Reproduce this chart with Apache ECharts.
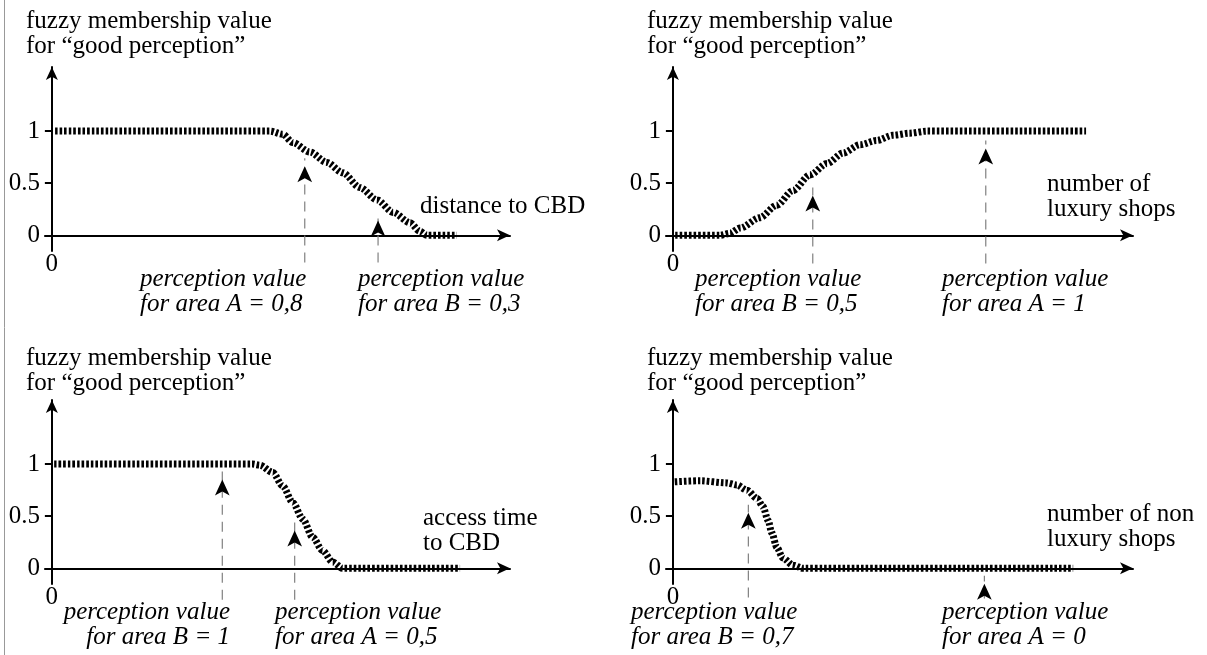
<!DOCTYPE html>
<html>
<head>
<meta charset="utf-8">
<script src="https://cdn.jsdelivr.net/npm/echarts@6/dist/echarts.min.js"></script>
<style>
  html, body { margin: 0; padding: 0; background: #fff; }
  #chart { width: 1207px; height: 655px; }
</style>
</head>
<body>
<div id="chart"></div>
<script>
// membership curves, x in axis units (0..100), y membership value
var distanceX = [0.7, 47.6, 50.4, 52.6, 56.3, 60.0, 63.5, 67.2, 71.0, 74.5, 78.2, 80.3, 81.9, 88.4];
var distanceY = [1, 1, 0.97, 0.89, 0.80, 0.70, 0.60, 0.46, 0.34, 0.22, 0.12, 0.04, 0, 0];

var luxuryX = [0.5, 10.2, 12.4, 14.6, 18.9, 22.6, 26.1, 29.8, 33.5, 37.0, 40.7, 44.3, 47.8, 51.5, 55.2, 89.8];
var luxuryY = [0, 0, 0.02, 0.07, 0.17, 0.29, 0.43, 0.58, 0.69, 0.79, 0.87, 0.91, 0.96, 0.98, 1, 1];

var accessX = [0.5, 43.8, 45.4, 48.2, 50.4, 52.6, 54.8, 56.9, 59.1, 61.3, 63.5, 89.1];
var accessY = [1, 1, 0.99, 0.92, 0.79, 0.63, 0.47, 0.30, 0.17, 0.06, 0, 0];

var nonLuxuryX = [0.4, 5.9, 11.7, 13.9, 16.1, 18.3, 19.6, 20.7, 21.5, 22.6, 23.9, 26.1, 28.3, 87.0];
var nonLuxuryY = [0.83, 0.84, 0.82, 0.80, 0.75, 0.67, 0.59, 0.46, 0.34, 0.20, 0.10, 0.03, 0, 0];

// perception arrows: x position, arrow tip value, dashed line start value
var distanceArrowX = [55.2, 71.2];
var distanceArrowTip = [0.74, 0.22];
var distanceArrowBase = [-0.26, -0.26];

var luxuryArrowX = [30.4, 68.0];
var luxuryArrowTip = [0.46, 0.91];
var luxuryArrowBase = [-0.27, -0.27];

var accessArrowX = [37.2, 53.0];
var accessArrowTip = [0.93, 0.44];
var accessArrowBase = [-0.30, -0.30];

var nonLuxuryArrowX = [16.4, 67.7];
var nonLuxuryArrowTip = [0.61, -0.07];
var nonLuxuryArrowBase = [-0.28, -0.29];

var yTicks = [0, 0.5, 1];
var xTicks = [0];

var yTitle = 'fuzzy membership value\nfor “good perception”';
var xNames = ['distance to CBD', 'number of\nluxury shops', 'access time\nto CBD', 'number of non\nluxury shops'];
var arrowLabels = [
    ['perception value\nfor area A = 0,8', 'perception value\nfor area B = 0,3'],
    ['perception value\nfor area B = 0,5', 'perception value\nfor area A = 1'],
    ['perception value\nfor area B = 1', 'perception value\nfor area A = 0,5'],
    ['perception value\nfor area B = 0,7', 'perception value\nfor area A = 0']
];

var FONT = '"Liberation Serif", "Times New Roman", serif';
var FS = 25;

var panels = [
    { xs: distanceX, ys: distanceY, ax: distanceArrowX, at: distanceArrowTip, ab: distanceArrowBase },
    { xs: luxuryX, ys: luxuryY, ax: luxuryArrowX, at: luxuryArrowTip, ab: luxuryArrowBase },
    { xs: accessX, ys: accessY, ax: accessArrowX, at: accessArrowTip, ab: accessArrowBase },
    { xs: nonLuxuryX, ys: nonLuxuryY, ax: nonLuxuryArrowX, at: nonLuxuryArrowTip, ab: nonLuxuryArrowBase }
];

// layout of each panel
var grids = [
    { left: 45, top: 67, width: 465, height: 184 },
    { left: 666, top: 67, width: 467, height: 184 },
    { left: 45, top: 400, width: 465, height: 184 },
    { left: 666, top: 400, width: 467, height: 184 }
];

var axisLineStyle = { color: '#000', width: 2 };

var xAxes = [], yAxes = [], series = [];
for (var p = 0; p < panels.length; p++) {
    var pn = panels[p];
    xAxes.push({
        gridIndex: p, type: 'value', min: -1.5, max: 100,
        axisLine: { onZero: true, lineStyle: axisLineStyle, symbol: ['none', 'arrow'], symbolSize: [9, 13] },
        axisTick: { show: false },
        splitLine: { show: false },
        axisLabel: { customValues: xTicks, margin: 1, color: '#000', fontFamily: FONT, fontSize: FS }
    });
    yAxes.push({
        gridIndex: p, type: 'value', min: -0.15, max: 1.615,
        axisLine: { onZero: true, lineStyle: axisLineStyle, symbol: ['none', 'arrow'], symbolSize: [9, 13] },
        axisTick: { customValues: yTicks, length: 7, lineStyle: { color: '#000', width: 2 } },
        splitLine: { show: false },
        axisLabel: { customValues: yTicks, margin: 5, color: '#000', fontFamily: FONT, fontSize: FS }
    });

    var curve = [];
    for (var i = 0; i < pn.xs.length; i++) curve.push([pn.xs[i], pn.ys[i]]);
    series.push({
        type: 'line', xAxisIndex: p, yAxisIndex: p,
        data: curve, showSymbol: false, smooth: 0.3, smoothMonotone: 'x',
        lineStyle: { color: '#000', width: 7, type: [2.6, 2], cap: 'butt' }
    });

    for (var k = 0; k < pn.ax.length; k++) {
        series.push({
            type: 'line', xAxisIndex: p, yAxisIndex: p, clip: false,
            symbol: 'none', showSymbol: true,
            lineStyle: { color: '#808080', width: 1.2, type: [10, 7] },
            itemStyle: { color: '#000' },
            data: [
                [pn.ax[k], pn.ab[k]],
                { value: [pn.ax[k], pn.at[k]], symbol: 'arrow', symbolSize: [11, 16], symbolOffset: [0, '50%'] }
            ]
        });
    }
}

function txt(x, y, text, align, italic) {
    return {
        type: 'text', x: x, y: y, silent: true,
        style: {
            text: text, fill: '#000', align: align || 'left', verticalAlign: 'top',
            font: (italic ? 'italic ' : '') + FS + 'px ' + FONT, lineHeight: 25
        }
    };
}

var graphics = [
    { type: 'line', shape: { x1: 4.5, y1: 0, x2: 4.5, y2: 655 }, style: { stroke: '#999', lineWidth: 1 } },
    // y axis titles
    txt(26, 9, yTitle), txt(647, 9, yTitle), txt(26, 346, yTitle), txt(647, 346, yTitle),
    // x axis names
    txt(420, 194, xNames[0]), txt(1047, 172, xNames[1]),
    txt(423, 506, xNames[2]), txt(1047, 502, xNames[3]),
    // perception labels
    txt(140, 267, arrowLabels[0][0], 'left', true), txt(358, 267, arrowLabels[0][1], 'left', true),
    txt(695, 267, arrowLabels[1][0], 'left', true), txt(942, 267, arrowLabels[1][1], 'left', true),
    txt(230, 600, arrowLabels[2][0], 'right', true), txt(275, 600, arrowLabels[2][1], 'left', true),
    txt(631, 600, arrowLabels[3][0], 'left', true), txt(942, 600, arrowLabels[3][1], 'left', true)
];

var myChart = echarts.init(document.getElementById('chart'));
var option = {
    animation: false,
    backgroundColor: '#fff',
    grid: grids,
    xAxis: xAxes,
    yAxis: yAxes,
    series: series,
    graphic: graphics
};
option && myChart.setOption(option);
</script>
</body>
</html>
